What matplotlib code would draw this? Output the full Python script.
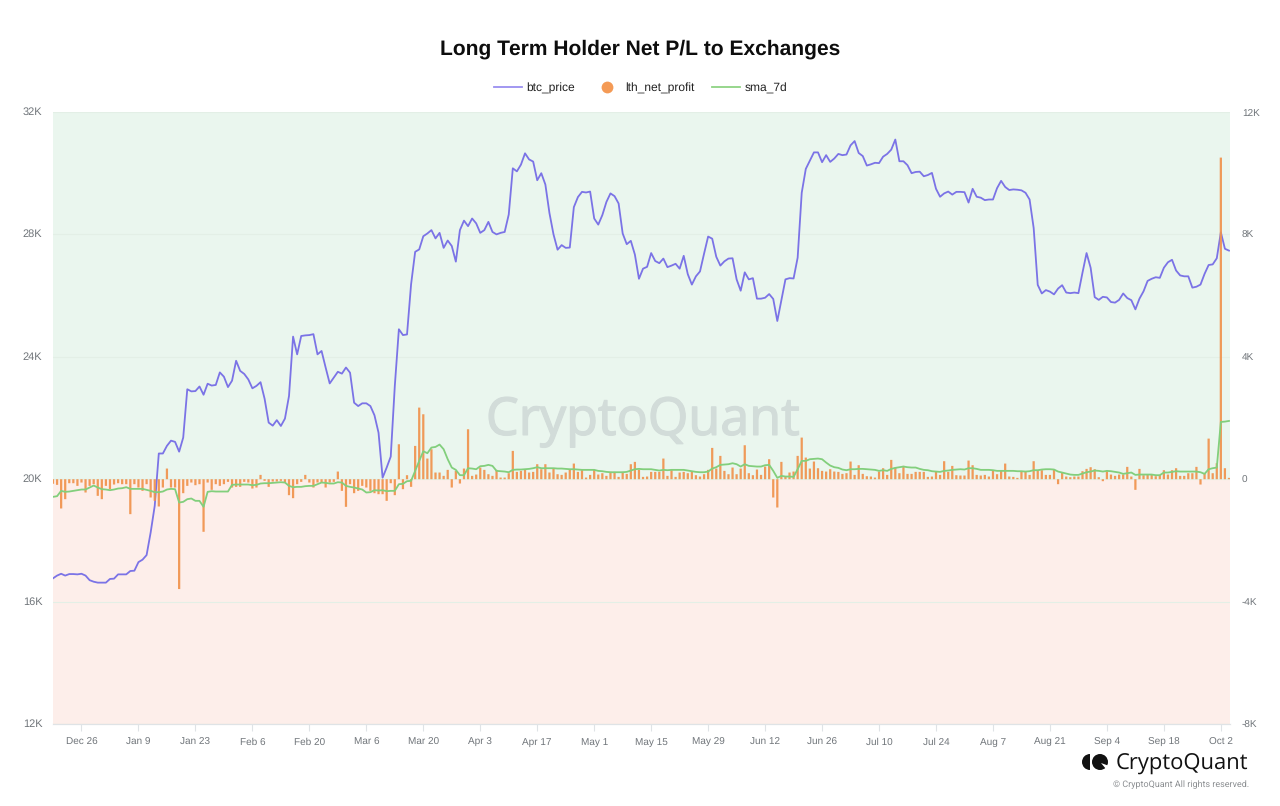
import pandas as pd
import matplotlib
matplotlib.use("Agg")
import matplotlib.pyplot as plt
import matplotlib.dates as mdates
import matplotlib.patheffects as pe
from matplotlib.lines import Line2D
from matplotlib.patches import Wedge, Circle

plt.rcParams['font.family'] = ['Liberation Sans', 'DejaVu Sans']
plt.rcParams['text.hinting'] = 'no_hinting'
plt.rcParams['text.hinting_factor'] = 1

# values, one per day from Dec 19
btc_price = [
    16760, 16850, 16910, 16850, 16900, 16900, 16890, 16910, 16850, 16700,
    16650, 16620, 16620, 16620, 16740, 16750, 16890, 16890, 16890, 17000,
    17010, 17290, 17370, 17520, 18260, 19130, 20840, 20840, 21090, 21260,
    21220, 20900, 21360, 22940, 22870, 22880, 23030, 22760, 23120, 23060,
    23080, 23490, 23350, 23010, 23220, 23870, 23540, 23440, 23260, 22970,
    23050, 23170, 22630, 21850, 21750, 21930, 21740, 21980, 22720, 24660,
    24080, 24680, 24700, 24710, 24740, 24080, 24190, 23650, 23130, 23320,
    23510, 23450, 23650, 23480, 22500, 22390, 22480, 22480, 22390, 22090,
    21520, 20050, 20380, 20740, 23050, 24900, 24710, 24730, 26370, 27430,
    27510, 27940, 28030, 28140, 27870, 28050, 27560, 27800, 27620, 27110,
    28140, 28450, 28270, 28520, 28360, 28050, 28140, 28410, 28080, 28000,
    28050, 28080, 28650, 30160, 30060, 30280, 30650, 30450, 30380, 29770,
    30000, 29630, 28700, 28000, 27500, 27650, 27560, 27570, 28890, 29220,
    29390, 29370, 29400, 28520, 28320, 28630, 29060, 29340, 29250, 29010,
    28030, 27680, 27790, 27340, 26550, 26880, 26940, 27390, 27130, 27060,
    27210, 26930, 26980, 27040, 26880, 27300, 26700, 26360, 26630, 26790,
    27370, 27930, 27860, 27270, 26980, 27120, 27210, 27220, 26530, 26160,
    26760, 26530, 26570, 25900, 25900, 25930, 26050, 25890, 25170, 25850,
    26530, 26570, 26560, 27240, 29360, 30140, 30410, 30680, 30680, 30360,
    30590, 30370, 30480, 30630, 30590, 30610, 30910, 31050, 30660, 30560,
    30250, 30290, 30340, 30330, 30540, 30630, 30770, 31100, 30390, 30390,
    30260, 30000, 30040, 30050, 29900, 29940, 30010, 29490, 29230, 29340,
    29400, 29300, 29390, 29390, 29380, 29040, 29490, 29230, 29200, 29120,
    29140, 29140, 29510, 29750, 29550, 29450, 29470, 29460, 29440, 29360,
    29140, 28210, 26350, 26070, 26180, 26130, 26040, 26230, 26340, 26100,
    26080, 26100, 26080, 26750, 27390, 26910, 25950, 25860, 25960, 25940,
    25790, 25770, 25860, 26070, 25920, 25850, 25550, 25900, 26140, 26480,
    26550, 26600, 26580, 26910, 27090, 27170, 26820, 26660, 26630, 26630,
    26260, 26290, 26360, 26710, 27000, 27020, 27220, 28070, 27530, 27470,
]

lth_net_profit = [
    -150, -185, -957, -653, -131, -131, -218, -109, -435, -218,
    -163, -544, -653, -218, -326, -174, -131, -163, -163, -1142,
    -163, -272, -381, -163, -598, -707, -892, -272, 348, -272,
    -272, -3590, -457, -218, -109, -196, -163, -1719, -109, -348,
    -163, -218, -163, -87, -272, -250, -250, -87, -109, -305,
    -272, 141, -54, -250, -76, -76, -54, -109, -522, -620,
    -163, -87, 141, -109, -272, -109, -109, -272, -109, -87,
    250, -381, -903, -163, -457, -381, -218, -272, -381, -457,
    -490, -490, -707, -131, -522, 1142, -326, 131, -250, 1088,
    2340, 2122, 675, 979, 218, 218, 109, 305, -272, 272,
    -141, 348, 1632, 109, 152, 381, 305, 163, 109, 305,
    54, 54, 196, 925, 239, 272, 305, 218, 239, 490,
    326, 490, 218, 359, 163, 141, 218, 305, 511, 239,
    294, 54, 141, 305, 152, 196, 109, 239, 239, 76,
    239, 174, 490, 566, 305, 76, 87, 239, 239, 239,
    675, 109, 294, 76, 218, 239, 196, 250, 131, 87,
    163, 305, 1023, 348, 762, 272, 163, 381, 163, 348,
    1110, 196, 131, 316, 141, 413, 653, -598, -925, 566,
    87, 218, 250, 762, 1360, 707, 348, 577, 359, 272,
    250, 326, 250, 239, 174, 196, 577, 141, 457, 174,
    98, 87, 54, 250, 359, 141, 631, 381, 196, 435,
    174, 174, 239, 239, 239, 76, 87, 261, 141, 588,
    239, 435, 131, 120, 120, 609, 457, 141, 120, 141,
    87, 294, 163, 272, 511, 87, 76, 44, 239, 239,
    141, 588, 272, 294, 141, 141, 326, -163, 218, 87,
    65, 87, 87, 261, 337, 392, 326, 65, -65, 261,
    152, 109, 152, 152, 403, 87, -348, 337, 131, 141,
    141, 98, 131, 294, 152, 294, 359, 109, 109, 196,
    196, 403, -174, 196, 1327, 196, 522, 10510, 359, 44,
]

sma_7d = [
    -577, -555, -381, -413, -403, -381, -359, -337, -337, -272,
    -207, -272, -326, -337, -359, -337, -305, -294, -261, -316,
    -316, -316, -316, -348, -381, -424, -424, -403, -337, -316,
    -326, -762, -740, -653, -631, -707, -707, -903, -413, -392,
    -403, -403, -403, -403, -185, -174, -174, -174, -174, -196,
    -185, -141, -131, -131, -120, -109, -98, -109, -218, -261,
    -250, -250, -228, -218, -218, -163, -109, -120, -141, -141,
    -98, -109, -218, -250, -272, -305, -337, -435, -424, -359,
    -370, -359, -392, -381, -381, -163, -152, -65, -54, 272,
    598, 914, 849, 1034, 1055, 1132, 979, 653, 381, 305,
    131, 131, 359, 348, 326, 424, 435, 468, 435, 272,
    261, 250, 228, 305, 316, 316, 326, 337, 359, 392,
    359, 359, 359, 359, 348, 348, 337, 326, 326, 316,
    305, 305, 305, 305, 272, 261, 239, 228, 228, 228,
    228, 239, 283, 326, 337, 326, 326, 326, 305, 283,
    305, 294, 305, 305, 305, 305, 283, 261, 239, 228,
    228, 250, 348, 392, 468, 479, 490, 522, 490, 413,
    490, 435, 424, 413, 413, 457, 468, 272, 44, 109,
    87, 87, 76, 326, 598, 598, 653, 664, 675, 653,
    544, 446, 392, 370, 316, 294, 326, 326, 337, 337,
    326, 316, 305, 272, 294, 272, 337, 370, 392, 413,
    392, 381, 381, 337, 305, 294, 261, 250, 239, 272,
    283, 305, 316, 326, 316, 359, 359, 337, 305, 305,
    305, 294, 272, 272, 272, 272, 272, 261, 261, 250,
    261, 294, 294, 316, 326, 326, 316, 250, 218, 185,
    152, 141, 141, 185, 228, 250, 283, 272, 250, 272,
    261, 239, 218, 174, 196, 218, 141, 152, 152, 152,
    152, 131, 131, 218, 218, 239, 261, 250, 250, 250,
    250, 250, 228, 174, 326, 359, 381, 1871, 1882, 1904,
]

tick_dates = ["2022-12-26", "2023-01-09", "2023-01-23", "2023-02-06", "2023-02-20",
              "2023-03-06", "2023-03-20", "2023-04-03", "2023-04-17", "2023-05-01",
              "2023-05-15", "2023-05-29", "2023-06-12", "2023-06-26", "2023-07-10",
              "2023-07-24", "2023-08-07", "2023-08-21", "2023-09-04", "2023-09-18",
              "2023-10-02"]
price_ticks = [12000, 16000, 20000, 24000, 28000, 32000]
price_labels = ["12K", "16K", "20K", "24K", "28K", "32K"]
profit_ticks = [-8000, -4000, 0, 4000, 8000, 12000]
profit_labels = ["-8K", "-4K", "0", "4K", "8K", "12K"]

PURPLE = "#7b73e6"
ORANGE = "#f0924c"
GREEN = "#82cf7c"
GREY = "#70757a"

days = pd.date_range("2022-12-19", periods=len(btc_price), freq="D")

fig = plt.figure(figsize=(12.8, 8.06), dpi=100)
fig.patch.set_facecolor("white")
ax = fig.add_axes([53 / 1280, 1 - 724 / 806, 1177 / 1280, 612 / 806])
ax2 = ax.twinx()

# green above zero, red below
ax.axhspan(20000, 32000, color="#eaf6ee", lw=0, zorder=0)
ax.axhspan(12000, 20000, color="#fdeeea", lw=0, zorder=0)
ax.grid(axis="y", color="#e3efe6", lw=0.8, zorder=1)
ax.set_axisbelow(True)

# watermark is heavier than the regular weight, so thicken it a little
ax.text(0.5009, 0.4945, "CryptoQuant", transform=ax.transAxes, ha="center", va="center",
        fontsize=37.5, color="#d2dcd9", family=["Open Sans", "DejaVu Sans"], zorder=2,
        path_effects=[pe.withStroke(linewidth=1.0, foreground="#d2dcd9")])

ax.plot(days, btc_price, color=PURPLE, lw=1.3, zorder=3, solid_joinstyle="round")
bars = ax2.bar(days, lth_net_profit, width=0.55, color=ORANGE, alpha=0.92, lw=0, zorder=3)
for b in bars:
    b.set_snap(False)
ax2.plot(days, sma_7d, color=GREEN, lw=1.3, zorder=4, solid_joinstyle="round")

ax.set_xlim(days[0], days[-1] + pd.Timedelta(hours=6))
ax.set_ylim(12000, 32000)
ax2.set_ylim(-8000, 12000)

ticks = pd.to_datetime(tick_dates)
ax.set_xticks(ticks)
ax.xaxis.set_major_formatter(mdates.DateFormatter("%b %-d"))
ax.set_yticks(price_ticks)
ax.set_yticklabels(price_labels)
ax2.set_yticks(profit_ticks)
ax2.set_yticklabels(profit_labels)

ax.tick_params(axis="x", length=5, width=0.8, color="#dfe3e6", labelsize=6.9, labelcolor=GREY, pad=4.7)
ax.tick_params(axis="y", length=0, labelsize=8.2, labelcolor=GREY, pad=7.6)
ax2.tick_params(axis="y", length=0, labelsize=7.2, labelcolor=GREY, pad=8.5)
for a in (ax, ax2):
    for s in a.spines.values():
        s.set_visible(False)
    a.spines["bottom"].set_visible(True)
    a.spines["bottom"].set_color("#dfe3e6")
    a.spines["bottom"].set_linewidth(0.8)
for lab in ax.get_yticklabels():
    lab.set_verticalalignment("center")
    lab.set_y(lab.get_position()[1])

fig.text(0.5, 1 - 49.5 / 806, "Long Term Holder Net P/L to Exchanges", ha="center", va="center",
         fontsize=14.9, fontweight="bold", color="#0d0d0d")

handles = [
    Line2D([], [], color="#9a8ff0", lw=1.3),
    Line2D([], [], color="none", marker="o", markerfacecolor="#f49a55", markeredgecolor="none", markersize=8.5),
    Line2D([], [], color="#8fd384", lw=1.3),
]
fig.legend(handles, ["btc_price", "lth_net_profit", "sma_7d"], loc="center",
           bbox_to_anchor=(640.5 / 1280, 1 - 88 / 806), ncol=3, frameon=False,
           fontsize=8.8, handlelength=2.3, handletextpad=0.37, columnspacing=1.43,
           labelcolor="#222222")

# logo, bottom right, drawn in pixel coordinates
logo = fig.add_axes([0, 0, 1, 1], facecolor="none")
logo.set_xlim(0, 1280)
logo.set_ylim(806, 0)
logo.axis("off")
logo.set_aspect("equal")
logo.add_patch(Wedge((1090, 762), 8, 90, 270, color="#111111", lw=0))
logo.add_patch(Circle((1100, 762), 8, color="#111111", lw=0))
logo.add_patch(Wedge((1101, 763), 9, 20, 50, color="white", lw=0))
logo.text(1116, 764, "CryptoQuant", ha="left", va="center", fontsize=15.9, color="#111111",
          family=["Open Sans", "DejaVu Sans"])
logo.text(1249, 785, "© CryptoQuant All rights reserved.", ha="right", va="center",
          fontsize=6.3, color="#8c8f92", family=["Roboto", "DejaVu Sans"])

fig.savefig("out.png", dpi=100)
